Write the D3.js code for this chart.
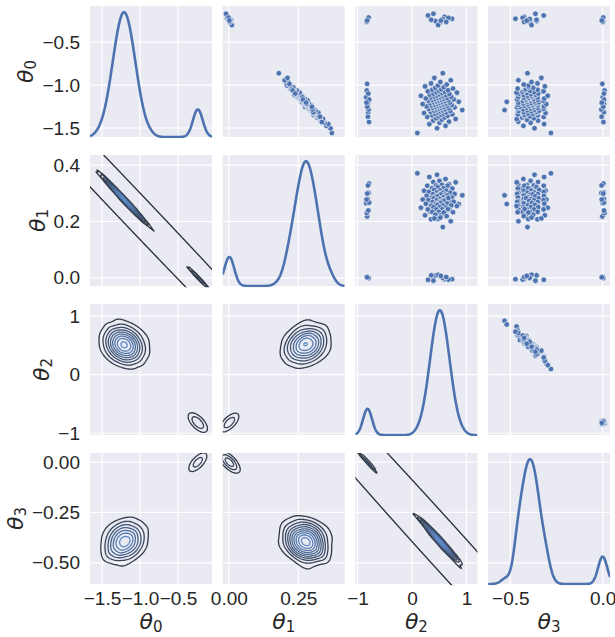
<!DOCTYPE html>
<html>
<head>
<meta charset="utf-8">
<script src="https://cdn.jsdelivr.net/npm/d3@7"></script>
<style>
  body { margin: 0; background: #fff; }
  text { font-family: "Liberation Sans", Arial, sans-serif; }
</style>
</head>
<body>
<svg id="chart" width="615" height="637"></svg>
<script>
// posterior samples: 100 main-mode draws, 12 with only (θ0,θ1) in the small mode,
// 12 with only (θ2,θ3) in the small mode, 4 fully in the small mode
const theta0 = [
  -1.558,-1.503,-1.475,-1.455,-1.439,-1.426,-1.414,-1.404,-1.395,-1.387,
  -1.379,-1.372,-1.365,-1.359,-1.353,-1.347,-1.341,-1.336,-1.331,-1.326,
  -1.321,-1.317,-1.312,-1.307,-1.303,-1.299,-1.295,-1.291,-1.287,-1.283,
  -1.279,-1.275,-1.271,-1.268,-1.264,-1.260,-1.257,-1.253,-1.249,-1.246,
  -1.242,-1.239,-1.236,-1.232,-1.229,-1.225,-1.222,-1.219,-1.215,-1.212,
  -1.208,-1.205,-1.201,-1.198,-1.195,-1.191,-1.188,-1.184,-1.181,-1.178,
  -1.174,-1.171,-1.167,-1.163,-1.160,-1.156,-1.152,-1.149,-1.145,-1.141,
  -1.137,-1.133,-1.129,-1.125,-1.121,-1.117,-1.113,-1.108,-1.103,-1.099,
  -1.094,-1.089,-1.084,-1.079,-1.073,-1.067,-1.061,-1.055,-1.048,-1.041,
  -1.033,-1.025,-1.016,-1.006,-0.994,-0.981,-0.965,-0.945,-0.917,-0.862,
  -0.190,-0.228,-0.256,-0.205,-0.272,-0.241,-0.218,-0.302,-0.231,-0.170,-0.265,-0.250,
  -1.431,-0.986,-1.318,-1.142,-1.221,-1.284,-1.063,-1.369,-1.170,-1.253,-1.099,-1.205,
  -0.235,-0.262,-0.214,-0.248
];
const theta1 = [
  0.371,0.366,0.351,0.358,0.344,0.332,0.340,0.330,0.339,0.328,
  0.317,0.327,0.318,0.327,0.318,0.305,0.317,0.309,0.318,0.309,
  0.322,0.309,0.301,0.310,0.302,0.312,0.302,0.293,0.303,0.295,
  0.305,0.296,0.285,0.297,0.289,0.298,0.290,0.274,0.291,0.282,
  0.292,0.284,0.296,0.285,0.276,0.286,0.278,0.289,0.279,0.270,
  0.280,0.272,0.282,0.274,0.262,0.275,0.267,0.276,0.268,0.283,
  0.269,0.260,0.270,0.262,0.273,0.263,0.254,0.264,0.256,0.266,
  0.257,0.246,0.257,0.249,0.259,0.250,0.236,0.251,0.242,0.251,
  0.243,0.255,0.243,0.234,0.243,0.234,0.244,0.234,0.223,0.233,
  0.224,0.232,0.222,0.209,0.219,0.208,0.214,0.201,0.211,0.180,
  -0.007,-0.005,0.008,-0.005,0.006,0.009,-0.006,0.011,0.000,-0.010,0.003,0.007,
  0.335,0.218,0.304,0.265,0.280,0.301,0.230,0.328,0.267,0.299,0.239,0.278,
  0.003,0.004,-0.001,0.002
];
const theta2 = [
  0.098,0.459,0.615,0.318,0.504,0.679,0.389,0.548,0.800,0.442,
  0.596,0.280,0.488,0.653,0.367,0.532,0.740,0.424,0.578,0.220,
  0.472,0.631,0.341,0.516,0.702,0.405,0.561,0.922,0.455,0.610,
  0.309,0.500,0.672,0.384,0.544,0.781,0.437,0.592,0.268,0.484,
  0.648,0.360,0.528,0.730,0.419,0.574,0.196,0.467,0.626,0.334,
  0.512,0.694,0.400,0.557,0.857,0.450,0.606,0.300,0.496,0.666,
  0.378,0.540,0.766,0.433,0.587,0.254,0.480,0.642,0.354,0.524,
  0.720,0.414,0.570,0.163,0.463,0.620,0.326,0.508,0.686,0.394,
  0.553,0.824,0.446,0.601,0.290,0.492,0.660,0.372,0.536,0.752,
  0.428,0.583,0.239,0.476,0.636,0.348,0.520,0.711,0.410,0.565,
  0.294,0.735,0.431,0.597,0.515,0.352,0.668,0.479,0.561,0.393,0.628,0.529,
  -0.790,-0.825,-0.806,-0.842,-0.815,-0.798,-0.830,-0.810,-0.787,-0.822,-0.803,-0.835,
  -0.815,-0.832,-0.798,-0.824
];
const theta3 = [
  -0.280,-0.369,-0.429,-0.317,-0.390,-0.457,-0.350,-0.410,-0.465,-0.373,
  -0.436,-0.319,-0.394,-0.424,-0.352,-0.423,-0.459,-0.377,-0.404,-0.309,
  -0.358,-0.427,-0.354,-0.387,-0.456,-0.344,-0.408,-0.531,-0.370,-0.430,
  -0.319,-0.391,-0.461,-0.351,-0.412,-0.463,-0.374,-0.448,-0.318,-0.396,
  -0.425,-0.352,-0.378,-0.458,-0.379,-0.405,-0.305,-0.365,-0.428,-0.356,
  -0.388,-0.456,-0.347,-0.409,-0.519,-0.371,-0.431,-0.320,-0.392,-0.414,
  -0.351,-0.414,-0.462,-0.375,-0.398,-0.316,-0.398,-0.426,-0.353,-0.383,
  -0.457,-0.382,-0.406,-0.297,-0.367,-0.428,-0.363,-0.389,-0.456,-0.349,
  -0.410,-0.466,-0.372,-0.433,-0.320,-0.393,-0.422,-0.352,-0.416,-0.460,
  -0.376,-0.402,-0.313,-0.403,-0.427,-0.353,-0.385,-0.456,-0.332,-0.407,
  -0.319,-0.472,-0.357,-0.425,-0.391,-0.358,-0.433,-0.385,-0.395,-0.364,-0.425,-0.411,
  0.004,-0.002,0.006,0.000,0.007,-0.007,0.010,-0.006,0.007,0.003,0.007,-0.005,
  -0.002,0.001,0.003,-0.005
];
const weights = [
  1,1,1,1,1,1,1,1,1,1, 1,1,1,1,1,1,1,1,1,1, 1,1,1,1,1,1,1,1,1,1, 1,1,1,1,1,1,1,1,1,1,
  1,1,1,1,1,1,1,1,1,1, 1,1,1,1,1,1,1,1,1,1, 1,1,1,1,1,1,1,1,1,1, 1,1,1,1,1,1,1,1,1,1,
  1,1,1,1,1,1,1,1,1,1, 1,1,1,1,1,1,1,1,1,1,
  0.15,0.15,0.15,0.15,0.15,0.15,0.15,0.15,0.15,0.15,0.15,0.15,
  0.15,0.15,0.15,0.15,0.15,0.15,0.15,0.15,0.15,0.15,0.15,0.15,
  2.0,2.0,2.0,2.0
];

const varLabels = ["0", "1", "2", "3"];          // subscripts of θ
const colDomains = [[-1.658, -0.053], [-0.022, 0.417], [-1.04, 1.2], [-0.62, 0.04]];
const rowDomains = [[-1.605, -0.08], [-0.029, 0.436], [-1.03, 1.207], [-0.605, 0.045]];
const xTicks = [[-1.5, -1.0, -0.5], [0, 0.25], [-1, 0, 1], [-0.5, 0]];
const yTicks = [[-1.5, -1.0, -0.5], [0, 0.2, 0.4], [-1, 0, 1], [-0.5, -0.25, 0]];
const xFormats = [".1f", ".2f", "d", ".1f"];
const yFormats = [".1f", ".1f", "d", ".2f"];

const svg = d3.select("#chart");
const originX = 90, originY = 6, panelW = 122, panelH = 131, stepX = 132.7, stepY = 149;
const BW1 = 0.2, BW2 = 0.28, PAD = 6;
const blue = "#4c72b0", panelBg = "#eaeaf2", textColor = "#262626";

const vars = [theta0, theta1, theta2, theta3];
const wSum = d3.sum(weights);

const xScales = colDomains.map((d, c) => d3.scaleLinear().domain(d)
  .range([originX + c * stepX, originX + c * stepX + panelW]));
const yScales = rowDomains.map((d, r) => d3.scaleLinear().domain(d)
  .range([originY + r * stepY + panelH, originY + r * stepY]));

function wMean(v) { return d3.sum(v, (x, i) => x * weights[i]) / wSum; }
function wCov(a, b) {
  const ma = wMean(a), mb = wMean(b);
  return d3.sum(a, (x, i) => weights[i] * (x - ma) * (b[i] - mb)) / wSum;
}

const defs = svg.append("defs");

for (let r = 0; r < 4; r++) {
  for (let c = 0; c < 4; c++) {
    const x = xScales[c], y = yScales[r];
    const x0 = x.range()[0], y0 = y.range()[1];
    const g = svg.append("g");
    const clipId = `clip-${r}-${c}`;
    defs.append("clipPath").attr("id", clipId).append("rect")
      .attr("x", x0).attr("y", y0).attr("width", panelW).attr("height", panelH + 1.2);

    g.append("rect").attr("x", x0).attr("y", y0).attr("width", panelW).attr("height", panelH)
      .attr("fill", panelBg);

    // grid
    g.selectAll(".vg").data(xTicks[c]).join("line")
      .attr("x1", d => x(d)).attr("x2", d => x(d)).attr("y1", y0).attr("y2", y0 + panelH)
      .attr("stroke", "#fff").attr("stroke-width", 1.2);
    g.selectAll(".hg").data(yTicks[r]).join("line")
      .attr("y1", d => y(d)).attr("y2", d => y(d)).attr("x1", x0).attr("x2", x0 + panelW)
      .attr("stroke", "#fff").attr("stroke-width", 1.2);

    const body = g.append("g").attr("clip-path", `url(#${clipId})`);

    if (r === c) {
      // univariate KDE
      const v = vars[c];
      const bw = BW1 * Math.sqrt(wCov(v, v));
      const norm = 1 / (wSum * bw * Math.sqrt(2 * Math.PI));
      const dom = x.domain();
      const pts = d3.range(0, 301).map(k => {
        const xv = dom[0] + (dom[1] - dom[0]) * k / 300;
        const dens = norm * d3.sum(v, (xi, i) => weights[i] * Math.exp(-0.5 * ((xv - xi) / bw) ** 2));
        return [xv, dens];
      });
      const yk = d3.scaleLinear().domain([0, d3.max(pts, p => p[1]) * 1.05])
        .range([y0 + panelH, y0]);
      body.append("path")
        .attr("d", d3.line().x(p => x(p[0])).y(p => yk(p[1]))(pts))
        .attr("fill", "none").attr("stroke", blue).attr("stroke-width", 2.6)
        .attr("stroke-linejoin", "round");
    } else if (r < c) {
      // scatter
      body.selectAll("circle").data(d3.range(theta0.length)).join("circle")
        .attr("cx", i => x(vars[c][i])).attr("cy", i => y(vars[r][i]))
        .attr("r", 2.8).attr("fill", blue).attr("stroke", "#fff").attr("stroke-width", 0.6);
    } else {
      // bivariate KDE, full-covariance gaussian kernel
      const xv = vars[c], yv = vars[r];
      const sxx = wCov(xv, xv) * BW2 * BW2, syy = wCov(yv, yv) * BW2 * BW2, sxy = wCov(xv, yv) * BW2 * BW2;
      const det = sxx * syy - sxy * sxy;
      const ia = syy / det, ib = -sxy / det, ic = sxx / det;
      const norm = 1 / (wSum * 2 * Math.PI * Math.sqrt(det));
      const gx0 = x0 - PAD, gy0 = y0 - PAD;
      const nx = Math.round(panelW + 2 * PAD), ny = Math.round(panelH + 2 * PAD);
      const dens = new Float64Array(nx * ny), reach = new Float64Array(nx * ny);
      for (let j = 0; j < ny; j++) {
        const py = y.invert(gy0 + j);
        for (let i = 0; i < nx; i++) {
          const px = x.invert(gx0 + i);
          let s = 0, qmin = Infinity;
          for (let k = 0; k < xv.length; k++) {
            const dx = px - xv[k], dy = py - yv[k];
            const q = ia * dx * dx + 2 * ib * dx * dy + ic * dy * dy;
            if (q < qmin) qmin = q;
            if (q < 1490) s += weights[k] * Math.exp(-0.5 * q);
          }
          dens[j * nx + i] = s * norm;
          reach[j * nx + i] = 1490 - qmin;
        }
      }
      const maxD = d3.max(dens);
      const levels = d3.ticks(0, maxD, 10).filter(l => l > 0 && l < maxD);
      const color = d3.scaleLinear().domain([0, levels[levels.length - 1]])
        .range(["#2b2f37", "#5f8ac8"]);
      const path = d3.geoPath(d3.geoTransform({
        point(px, py) { this.stream.point(gx0 + px - 0.5, gy0 + py - 0.5); }
      }));
      const cg = body.append("g").attr("fill", "none").attr("stroke-width", 1.3)
        .attr("stroke-linejoin", "round");
      if (d3.min(reach) < 0) {
        const zero = d3.contours().size([nx, ny]).thresholds([0])(reach);
        cg.selectAll(".z").data(zero).join("path").attr("d", path).attr("stroke", color(0));
      }
      const iso = d3.contours().size([nx, ny]).thresholds(levels)(dens);
      cg.selectAll(".l").data(iso).join("path").attr("d", path)
        .attr("stroke", d => color(d.value));
    }
  }
}

// axes
const bottom = originY + 3 * stepY + panelH;
for (let c = 0; c < 4; c++) {
  svg.append("g").attr("transform", `translate(0,${bottom})`)
    .call(d3.axisBottom(xScales[c]).tickValues(xTicks[c]).tickFormat(d3.format(xFormats[c]))
      .tickSize(0).tickPadding(8))
    .call(a => a.select(".domain").remove())
    .attr("font-size", 19).attr("font-family", "Liberation Sans, Arial, sans-serif")
    .attr("color", textColor);

  const lab = svg.append("text").attr("x", (xScales[c].range()[0] + xScales[c].range()[1]) / 2)
    .attr("y", 629).attr("text-anchor", "middle").attr("fill", textColor);
  lab.append("tspan").attr("font-family", "DejaVu Sans").attr("font-style", "italic")
    .attr("font-size", 22).text("θ");
  lab.append("tspan").attr("font-family", "DejaVu Sans").attr("font-size", 15).attr("dy", 3)
    .text(varLabels[c]);
}
for (let r = 0; r < 4; r++) {
  const ax = svg.append("g").attr("transform", `translate(${originX},0)`)
    .call(d3.axisLeft(yScales[r]).tickValues(yTicks[r]).tickFormat(d3.format(yFormats[r]))
      .tickSize(0).tickPadding(10))
    .call(a => a.select(".domain").remove())
    .attr("font-size", 19).attr("font-family", "Liberation Sans, Arial, sans-serif")
    .attr("color", textColor);
  const maxW = d3.max(ax.selectAll("text").nodes(), n => n.getComputedTextLength());
  const bx = originX - 10 - maxW - 9;
  const yc = (yScales[r].range()[0] + yScales[r].range()[1]) / 2;
  const lab = svg.append("text").attr("transform", `translate(${bx},${yc}) rotate(-90)`)
    .attr("text-anchor", "middle").attr("fill", textColor);
  lab.append("tspan").attr("font-family", "DejaVu Sans").attr("font-style", "italic")
    .attr("font-size", 22).text("θ");
  lab.append("tspan").attr("font-family", "DejaVu Sans").attr("font-size", 15).attr("dy", 3)
    .text(varLabels[r]);
}
</script>
</body>
</html>
